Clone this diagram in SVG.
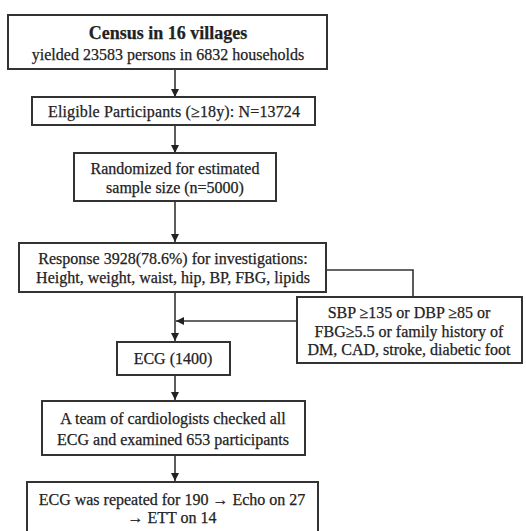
<svg xmlns="http://www.w3.org/2000/svg" width="526" height="531" viewBox="0 0 526 531">
<style>
.box{fill:#fff;stroke:#333;stroke-width:2}
.t{font-family:"Liberation Serif","Times New Roman",serif;font-size:16px;fill:#222;stroke:#222;stroke-width:0.25;text-anchor:middle}
.b{font-weight:bold}
.c{fill:none;stroke:#333;stroke-width:1.6}
</style>
<defs>
<marker id="ah" viewBox="0 0 10 10" refX="10" refY="5" markerWidth="5" markerHeight="5" orient="auto" markerUnits="strokeWidth">
<path d="M0,0L10,5L0,10z" fill="#222"/>
</marker>
</defs>
<rect width="526" height="531" fill="#fff"/>
<g id="connectors">
<path class="c" d="M175,69V97" marker-end="url(#ah)"/>
<path class="c" d="M175,125V153" marker-end="url(#ah)"/>
<path class="c" d="M175,201V242" marker-end="url(#ah)"/>
<path class="c" d="M175,292V341" marker-end="url(#ah)"/>
<path class="c" d="M326,270H413V297"/>
<path class="c" d="M297,321H176" marker-end="url(#ah)"/>
<path class="c" d="M175,375V400" marker-end="url(#ah)"/>
<path class="c" d="M175,455V481" marker-end="url(#ah)"/>
</g>
<g id="census">
<rect class="box" x="8" y="15" width="319" height="54"/>
<text class="t b" x="168" y="39" style="font-size:18px">Census in 16 villages</text>
<text class="t" x="168" y="60">yielded 23583 persons in 6832 households</text>
</g>
<g id="eligible">
<rect class="box" x="32" y="97" width="283" height="28"/>
<text class="t" x="174" y="117" textLength="252" lengthAdjust="spacing">Eligible Participants (≥18y): N=13724</text>
</g>
<g id="randomized">
<rect class="box" x="74" y="153" width="202" height="48"/>
<text class="t" x="175" y="174">Randomized for estimated</text>
<text class="t" x="175" y="193">sample size (n=5000)</text>
</g>
<g id="response">
<rect class="box" x="19" y="243" width="307" height="49"/>
<text class="t" x="173" y="264">Response 3928(78.6%) for investigations:</text>
<text class="t" x="173" y="283">Height, weight, waist, hip, BP, FBG, lipids</text>
</g>
<g id="criteria">
<rect class="box" x="297" y="297" width="225" height="66"/>
<text class="t" x="409" y="318">SBP  ≥135 or DBP  ≥85 or</text>
<text class="t" x="409" y="337">FBG≥5.5 or family history of</text>
<text class="t" x="409" y="355">DM, CAD, stroke, diabetic foot</text>
</g>
<g id="ecg">
<rect class="box" x="117" y="342" width="113" height="33"/>
<text class="t" x="173" y="364">ECG (1400)</text>
</g>
<g id="cardiologists">
<rect class="box" x="42" y="401" width="263" height="54"/>
<text class="t" x="173" y="424">A team of cardiologists checked all</text>
<text class="t" x="173" y="445">ECG and examined 653 participants</text>
</g>
<g id="repeated">
<rect class="box" x="27" y="482" width="291" height="52"/>
<text class="t" x="172" y="505">ECG was repeated for 190 → Echo on 27</text>
<text class="t" x="172" y="523">→ ETT on 14</text>
</g>
</svg>
